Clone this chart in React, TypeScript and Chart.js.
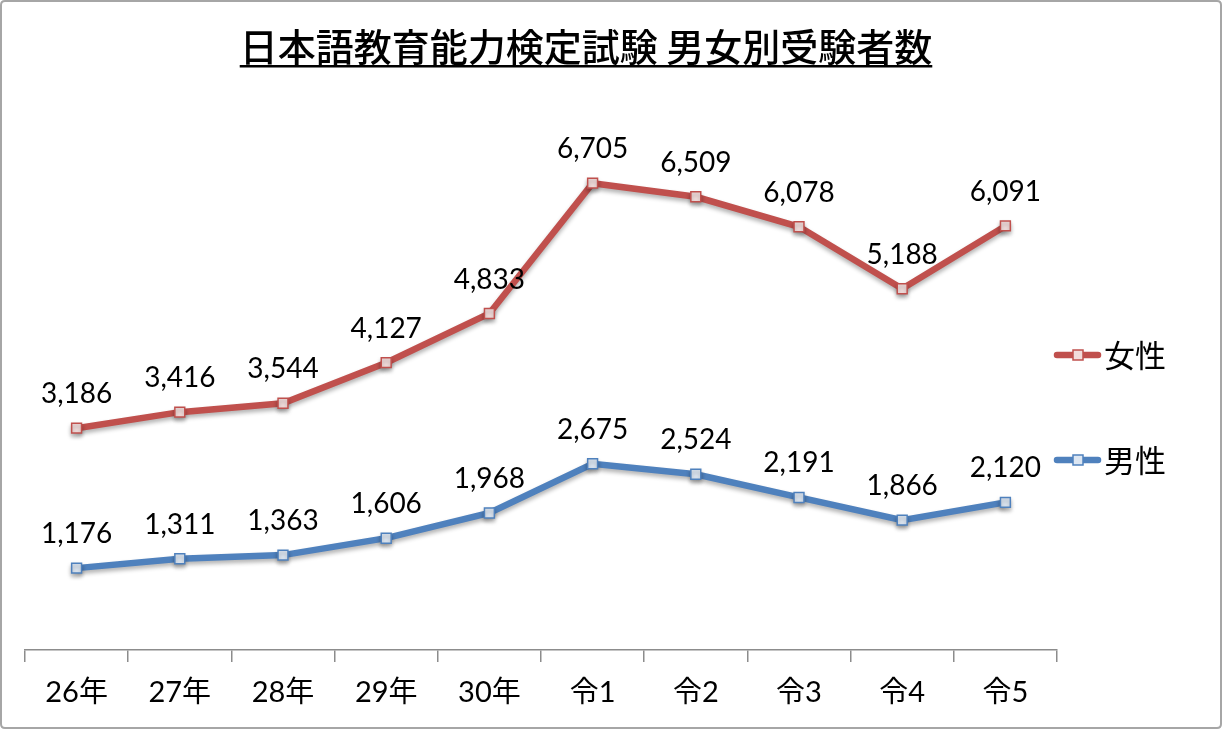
import React, { useEffect, useRef } from "react";
import { Chart, registerables } from "chart.js";

Chart.register(...registerables);

const categories = ["26年", "27年", "28年", "29年", "30年", "令1", "令2", "令3", "令4", "令5"];
const femaleValues = [3186, 3416, 3544, 4127, 4833, 6705, 6509, 6078, 5188, 6091];
const maleValues = [1176, 1311, 1363, 1606, 1968, 2675, 2524, 2191, 1866, 2120];
const seriesNames = ["女性", "男性"];
const titleText = "日本語教育能力検定試験 男女別受験者数";
const yMin = 0;
const yMax = 8000;

const FONT = "Lato, 'Noto Sans CJK JP', sans-serif";
const CJK_FONT = "'Noto Sans CJK JP', sans-serif";

const RED = "#C0504D";
const RED_FILL = "#F2DCDB";
const BLUE = "#4F81BD";
const BLUE_FILL = "#DCE6F2";
const AXIS = "#8c8c8c";

const framePlugin = {
  id: "frameTitle",
  afterDraw(chart: any) {
    const ctx = chart.ctx;
    ctx.save();
    ctx.strokeStyle = "#a6a6a6";
    ctx.lineWidth = 2;
    ctx.beginPath();
    const r = 4;
    const x0 = 1, y0 = 1, x1 = 1221, y1 = 728;
    ctx.moveTo(x0 + r, y0);
    ctx.lineTo(x1 - r, y0);
    ctx.quadraticCurveTo(x1, y0, x1, y0 + r);
    ctx.lineTo(x1, y1 - r);
    ctx.quadraticCurveTo(x1, y1, x1 - r, y1);
    ctx.lineTo(x0 + r, y1);
    ctx.quadraticCurveTo(x0, y1, x0, y1 - r);
    ctx.lineTo(x0, y0 + r);
    ctx.quadraticCurveTo(x0, y0, x0 + r, y0);
    ctx.stroke();
    ctx.font = `500 38px ${CJK_FONT}`;
    ctx.fillStyle = "#000";
    ctx.textAlign = "center";
    ctx.textBaseline = "middle";
    const cx = 586;
    const cy = 47;
    ctx.fillText(titleText, cx, cy);
    const w = ctx.measureText(titleText).width;
    ctx.fillRect(cx - w / 2, 65, w, 2.5);
    ctx.restore();
  },
};

const shadowPlugin = {
  id: "lineShadow",
  beforeDatasetDraw(chart: any) {
    const ctx = chart.ctx;
    ctx.save();
    ctx.shadowColor = "rgba(0,0,0,0.3)";
    ctx.shadowBlur = 4;
    ctx.shadowOffsetY = 3;
  },
  afterDatasetDraw(chart: any) {
    chart.ctx.restore();
  },
};

const labelPlugin = {
  id: "valueLabels",
  afterDatasetsDraw(chart: any) {
    const ctx = chart.ctx;
    ctx.save();
    ctx.font = `28px ${FONT}`;
    ctx.fillStyle = "#000";
    ctx.textAlign = "center";
    ctx.textBaseline = "middle";
    chart.data.datasets.forEach((ds: any, i: number) => {
      const meta = chart.getDatasetMeta(i);
      meta.data.forEach((pt: any, j: number) => {
        const v = ds.data[j];
        ctx.fillText(v.toLocaleString("en-US"), pt.x, pt.y - 34);
      });
    });
    ctx.restore();
  },
};

const legendPlugin = {
  id: "sideLegend",
  afterDraw(chart: any) {
    const ctx = chart.ctx;
    const items = [
      { name: seriesNames[0], color: RED, fill: RED_FILL, y: 355 },
      { name: seriesNames[1], color: BLUE, fill: BLUE_FILL, y: 460 },
    ];
    ctx.save();
    items.forEach((it) => {
      ctx.strokeStyle = it.color;
      ctx.lineWidth = 6.5;
      ctx.lineCap = "round";
      ctx.beginPath();
      ctx.moveTo(1057, it.y);
      ctx.lineTo(1098, it.y);
      ctx.stroke();
      ctx.fillStyle = it.fill;
      ctx.fillRect(1073, it.y - 5, 10, 10);
      ctx.lineWidth = 1.5;
      ctx.strokeRect(1073, it.y - 5, 10, 10);
      ctx.fillStyle = "#000";
      ctx.font = `31px ${CJK_FONT}`;
      ctx.textAlign = "left";
      ctx.textBaseline = "middle";
      ctx.fillText(it.name, 1104, it.y);
    });
    ctx.restore();
  },
};

export default function App() {
  const ref = useRef<HTMLCanvasElement | null>(null);
  useEffect(() => {
    document.body.style.margin = "0";
    const canvas = ref.current!;
    const chart = new Chart(canvas, {
      type: "line",
      data: {
        labels: categories,
        datasets: [
          {
            label: seriesNames[0],
            data: femaleValues,
            borderColor: RED,
            backgroundColor: RED_FILL,
            borderWidth: 6.5,
            pointStyle: "rect",
            pointRadius: 7,
            pointBorderWidth: 1.5,
            pointBorderColor: RED,
            pointBackgroundColor: RED_FILL,
            tension: 0,
          },
          {
            label: seriesNames[1],
            data: maleValues,
            borderColor: BLUE,
            backgroundColor: BLUE_FILL,
            borderWidth: 6.5,
            pointStyle: "rect",
            pointRadius: 7,
            pointBorderWidth: 1.5,
            pointBorderColor: BLUE,
            pointBackgroundColor: BLUE_FILL,
            tension: 0,
          },
        ],
      },
      options: {
        animation: false,
        responsive: false,
        devicePixelRatio: 1,
        layout: { padding: { left: 25, right: 165, top: 93, bottom: 0 } },
        plugins: {
          legend: { display: false },
          title: { display: false },
          tooltip: { enabled: false },
        },
        scales: {
          x: {
            type: "category",
            offset: true,
            grid: {
              offset: true,
              drawOnChartArea: false,
              drawTicks: true,
              tickLength: 12,
              color: AXIS,
              lineWidth: 1.5,
            },
            border: { color: AXIS, width: 1.5 },
            ticks: {
              color: "#000",
              font: { size: 29, family: FONT },
              padding: 13,
              maxRotation: 0,
              autoSkip: false,
            },
            afterFit: (s: any) => {
              s.height = 81;
            },
          },
          y: {
            display: false,
            min: yMin,
            max: yMax,
          },
        },
      },
      plugins: [shadowPlugin, labelPlugin, legendPlugin, framePlugin],
    } as any);
    return () => chart.destroy();
  }, []);
  return (
    <div style={{ position: "absolute", left: 0, top: 0, width: 1222, height: 731, background: "#fff" }}>
      <canvas ref={ref} width={1222} height={731} style={{ display: "block", width: 1222, height: 731 }} />
    </div>
  );
}
